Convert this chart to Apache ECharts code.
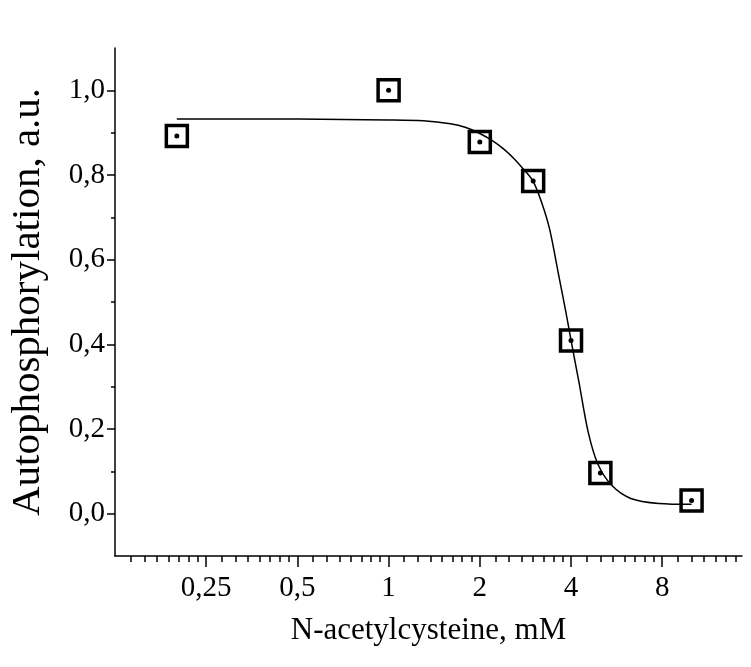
<!DOCTYPE html>
<html>
<head>
<meta charset="utf-8">
<script src="https://cdn.jsdelivr.net/npm/echarts@6/dist/echarts.min.js"></script>
<style>
html,body{margin:0;padding:0;background:#fff;}
#chart{width:751px;height:667px;}
</style>
</head>
<body>
<div id="chart"></div>
<script>
// measured points, N-acetylcysteine (mM) vs autophosphorylation (a.u.)
var conc = [0.2, 1, 2, 3, 4, 5, 10];
var phos = [0.892, 1.0, 0.878, 0.786, 0.409, 0.096, 0.031];
// fitted curve
var fitConc = [0.2, 0.5, 1, 1.3, 1.6, 1.8, 2.0, 2.2, 2.4, 2.6, 2.8, 3.0, 3.2, 3.4, 3.65, 3.85, 4.0, 4.25, 4.55, 4.9, 5.45, 6.3, 7.8, 10];
var fitVal  = [0.932, 0.932, 0.930, 0.928, 0.921, 0.912, 0.898, 0.881, 0.861, 0.838, 0.812, 0.785, 0.735, 0.672, 0.56, 0.475, 0.41, 0.31, 0.195, 0.118, 0.067, 0.036, 0.024, 0.022];
var xTicks = [0.25, 0.5, 1, 2, 4, 8];
var yTicks = [0, 0.2, 0.4, 0.6, 0.8, 1.0];
var yMinorTicks = [0.1, 0.3, 0.5, 0.7, 0.9];

var myChart = echarts.init(document.getElementById('chart'));

var option = {
  animation: false,
  textStyle: { fontFamily: 'Liberation Serif' },
  grid: { left: 113, right: 9, top: 48, bottom: 111 },
  xAxis: {
    type: 'log',
    logBase: 2,
    min: 0.125,
    max: 14.67,
    name: 'N-acetylcysteine, mM',
    nameLocation: 'middle',
    nameGap: 59,
    nameTextStyle: { fontSize: 31, color: '#000', fontFamily: 'Liberation Serif' },
    axisLine: { onZero: false, lineStyle: { color: '#000', width: 1.5 } },
    axisTick: { length: 11, customValues: xTicks, lineStyle: { color: '#000', width: 1.5 } },
    minorTick: { show: true, splitNumber: 8, length: 6, lineStyle: { color: '#000', width: 1.5 } },
    splitLine: { show: false },
    minorSplitLine: { show: false },
    axisLabel: {
      fontSize: 29, color: '#000', margin: 18,
      customValues: xTicks,
      formatter: function (v) {
        return String(v).replace('.', ',');
      }
    }
  },
  yAxis: [
    {
      type: 'value',
      min: -0.1,
      max: 1.1,
      name: 'Autophosphorylation, a.u.',
      nameLocation: 'middle',
      nameGap: 66,
      nameTextStyle: { fontSize: 41, color: '#000', fontFamily: 'Liberation Serif' },
      axisLine: { lineStyle: { color: '#000', width: 1.5 } },
      axisTick: { length: 8, customValues: yTicks, lineStyle: { color: '#000', width: 1.5 } },
      splitLine: { show: false },
      axisLabel: {
        fontSize: 29, color: '#000', margin: 10,
        customValues: yTicks,
        formatter: function (v) {
          return v.toFixed(1).replace('.', ',');
        }
      }
    },
    {
      // only the short minor ticks
      type: 'value',
      position: 'left',
      min: -0.1,
      max: 1.1,
      axisLine: { show: false },
      axisTick: { length: 4, customValues: yMinorTicks, lineStyle: { color: '#000', width: 1.5 } },
      axisLabel: { show: false },
      splitLine: { show: false }
    }
  ],
  series: [
    {
      name: 'fit',
      type: 'line',
      smooth: 0.3,
      symbol: 'none',
      lineStyle: { color: '#000', width: 1.5 },
      data: fitConc.map(function (c, i) { return [c, fitVal[i]]; }),
      z: 2
    },
    {
      name: 'box',
      type: 'scatter',
      symbol: 'rect',
      symbolSize: 21,
      itemStyle: { color: 'rgba(0,0,0,0)', borderColor: '#000', borderWidth: 3.5, opacity: 1 },
      data: conc.map(function (c, i) { return [c, phos[i]]; }),
      z: 3
    },
    {
      name: 'dot',
      type: 'scatter',
      symbol: 'circle',
      symbolSize: 5,
      itemStyle: { color: '#000', opacity: 1 },
      data: conc.map(function (c, i) { return [c, phos[i]]; }),
      z: 4
    }
  ]
};

myChart.setOption(option);
window.addEventListener('resize', function () {
  myChart.resize();
});
</script>
</body>
</html>
